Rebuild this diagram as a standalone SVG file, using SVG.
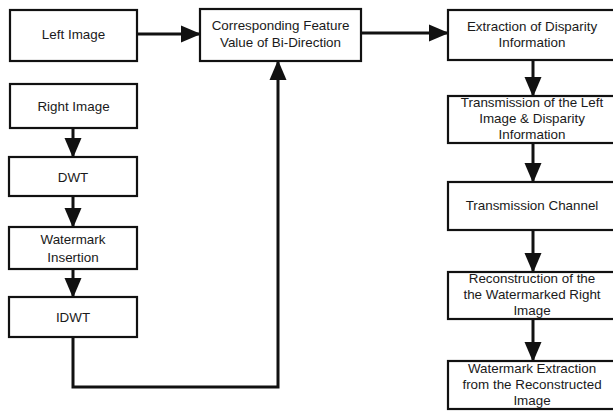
<svg xmlns="http://www.w3.org/2000/svg" width="613" height="411" viewBox="0 0 613 411">
<defs>
<style>
.box{fill:#fff;stroke:#111;stroke-width:2.2}
.t{font-family:"Liberation Sans",Arial,sans-serif;font-size:13.4px;fill:#1a1a1a;text-anchor:middle}
.c{fill:none;stroke:#111;stroke-width:3}
</style>
<marker id="ah" markerUnits="userSpaceOnUse" markerWidth="20" markerHeight="20" viewBox="0 0 20 20" refX="19" refY="10" orient="auto">
<path d="M0,1.5 L20,10 L0,18.5 Z" fill="#111"/>
</marker>
</defs>
<rect width="613" height="411" fill="#fff"/>
<g id="connectors">
<line class="c" x1="137" y1="34" x2="200" y2="34" marker-end="url(#ah)"/>
<line class="c" x1="361" y1="33" x2="448" y2="33" marker-end="url(#ah)"/>
<line class="c" x1="73" y1="128" x2="73" y2="157" marker-end="url(#ah)"/>
<line class="c" x1="73" y1="196" x2="73" y2="227" marker-end="url(#ah)"/>
<line class="c" x1="73" y1="269" x2="73" y2="297" marker-end="url(#ah)"/>
<polyline class="c" points="73,337 73,387 278,387 278,61" marker-end="url(#ah)"/>
<line class="c" x1="533" y1="60" x2="533" y2="96" marker-end="url(#ah)"/>
<line class="c" x1="533" y1="143" x2="533" y2="182" marker-end="url(#ah)"/>
<line class="c" x1="533" y1="230" x2="533" y2="272" marker-end="url(#ah)"/>
<line class="c" x1="533" y1="319" x2="533" y2="361" marker-end="url(#ah)"/>
</g>
<g id="left-image"><rect class="box" x="10" y="10" width="127" height="51"/><text class="t" x="73.5" y="39">Left Image</text></g>
<g id="right-image"><rect class="box" x="10" y="84" width="127" height="44"/><text class="t" x="73.5" y="111">Right Image</text></g>
<g id="dwt"><rect class="box" x="9" y="157" width="128" height="39"/><text class="t" x="73" y="182">DWT</text></g>
<g id="watermark-insertion"><rect class="box" x="9" y="227" width="128" height="42"/><text class="t" x="73" y="244">Watermark</text><text class="t" x="73" y="262">Insertion</text></g>
<g id="idwt"><rect class="box" x="9" y="297" width="128" height="40"/><text class="t" x="73" y="322">IDWT</text></g>
<g id="bidirection"><rect class="box" x="200" y="9" width="161" height="52"/><text class="t" x="280.5" y="30">Corresponding Feature</text><text class="t" x="280.5" y="47">Value of Bi-Direction</text></g>
<g id="extraction"><rect class="box" x="448" y="10" width="170" height="50"/><text class="t" x="532" y="31">Extraction of Disparity</text><text class="t" x="532" y="47">Information</text></g>
<g id="transmission-left"><rect class="box" x="448" y="96" width="170" height="47"/><text class="t" x="532" y="107">Transmission of the Left</text><text class="t" x="532" y="123">Image &amp; Disparity</text><text class="t" x="532" y="139">Information</text></g>
<g id="channel"><rect class="box" x="448" y="182" width="170" height="48"/><text class="t" x="532" y="210">Transmission Channel</text></g>
<g id="reconstruction"><rect class="box" x="448" y="272" width="170" height="47"/><text class="t" x="532" y="283">Reconstruction of the</text><text class="t" x="532" y="299">the Watermarked Right</text><text class="t" x="532" y="315">Image</text></g>
<g id="watermark-extraction"><rect class="box" x="448" y="361" width="170" height="48"/><text class="t" x="532" y="373">Watermark Extraction</text><text class="t" x="532" y="389">from the Reconstructed</text><text class="t" x="532" y="405">Image</text></g>
</svg>
